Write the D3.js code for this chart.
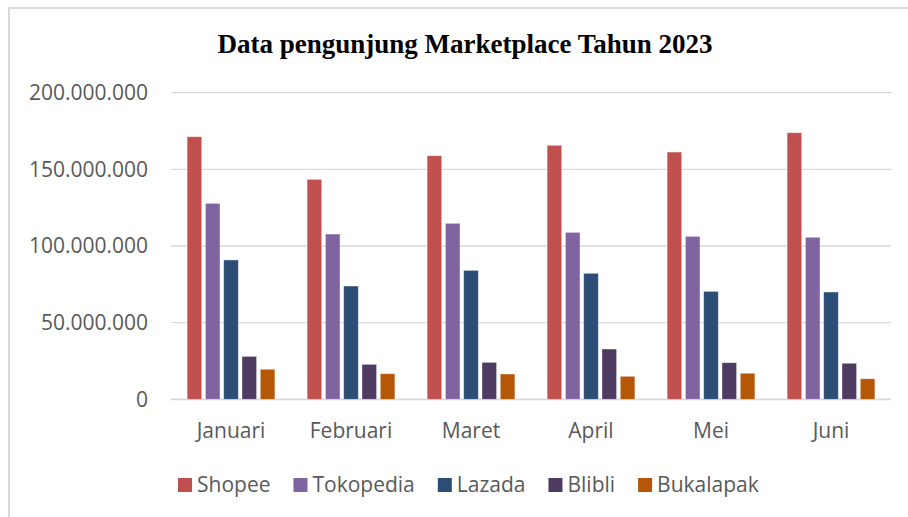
<!DOCTYPE html>
<meta charset="utf-8">
<style>
body { margin: 0; background: #fff; }
svg { display: block; }
.tick text, .cat, .legend text { font-family: "Open Sans", sans-serif; font-size: 21px; fill: #595959; }
.title { font-family: "Liberation Serif", "Times New Roman", serif; font-weight: bold; font-size: 27px; fill: #000; }
</style>
<svg width="908" height="517"></svg>
<script src="https://d3js.org/d3.v7.min.js"></script>
<script>

var months = ["Januari", "Februari", "Maret", "April", "Mei", "Juni"];
var series = ["Shopee", "Tokopedia", "Lazada", "Blibli", "Bukalapak"];
var colors = ["#C0504D", "#8064A2", "#2C4D75", "#4D3B62", "#B65708"];
// values per month, in series order
var shopee    = [171300000, 143500000, 158900000, 165700000, 161300000, 173900000];
var tokopedia = [127800000, 107800000, 114800000, 108900000, 106300000, 105700000];
var lazada    = [ 90900000,  73900000,  84100000,  82200000,  70400000,  70000000];
var blibli    = [ 28000000,  22800000,  24100000,  32800000,  23900000,  23500000];
var bukalapak = [ 19600000,  16700000,  16500000,  15000000,  17000000,  13400000];
var yTicks = [0, 50000000, 100000000, 150000000, 200000000];

var allValues = [shopee, tokopedia, lazada, blibli, bukalapak];

var svg = d3.select("svg");
var plotLeft = 171, plotRight = 891, plotTop = 92.7, plotBottom = 399.3;

// chart border
svg.append("rect")
    .attr("x", 9).attr("y", 8)
    .attr("width", 908).attr("height", 520)
    .attr("fill", "none")
    .attr("stroke", "#d9d9d9")
    .attr("stroke-width", 2);

svg.append("text")
    .attr("class", "title")
    .attr("x", 465).attr("y", 53)
    .attr("text-anchor", "middle")
    .text("Data pengunjung Marketplace Tahun 2023");

var x0 = d3.scaleBand().domain(months).range([plotLeft, plotRight]);
var x1 = d3.scaleBand().domain(series).range([0, x0.bandwidth()])
    .paddingInner(0.2).paddingOuter(0.88);
var y = d3.scaleLinear().domain([0, 200000000]).range([plotBottom, plotTop]);

var id = d3.formatLocale({decimal: ",", thousands: ".", grouping: [3], currency: ["Rp", ""]});
var fmt = id.format(",d");

// gridlines
svg.append("g")
  .selectAll("line")
  .data(yTicks)
  .join("line")
    .attr("x1", plotLeft).attr("x2", plotRight)
    .attr("y1", function(d) { return y(d); })
    .attr("y2", function(d) { return y(d); })
    .attr("stroke", "#d9d9d9")
    .attr("stroke-width", function(d) { return d === 0 ? 1.8 : 1.3; });

var yAxis = svg.append("g")
    .attr("transform", "translate(" + plotLeft + ",0)")
    .call(d3.axisLeft(y).tickValues(yTicks).tickFormat(fmt).tickSize(0).tickPadding(23));
yAxis.select(".domain").remove();
yAxis.attr("font-family", null).attr("font-size", null);

var groups = svg.append("g")
  .selectAll("g")
  .data(months)
  .join("g")
    .attr("transform", function(m) { return "translate(" + x0(m) + ",0)"; });

groups.selectAll("rect")
  .data(function(m, i) {
    return series.map(function(s, j) { return {s: s, j: j, v: allValues[j][i]}; });
  })
  .join("rect")
    .attr("x", function(d) { return x1(d.s); })
    .attr("width", x1.bandwidth())
    .attr("y", function(d) { return y(d.v); })
    .attr("height", function(d) { return plotBottom - y(d.v); })
    .attr("fill", function(d) { return colors[d.j]; })
    .attr("stroke", "#fff")
    .attr("stroke-opacity", 0.5)
    .attr("stroke-width", 0.8);

svg.append("g")
  .selectAll("text")
  .data(months)
  .join("text")
    .attr("class", "cat")
    .attr("x", function(m) { return x0(m) + x0.bandwidth() / 2; })
    .attr("y", 438)
    .attr("text-anchor", "middle")
    .text(function(m) { return m; });

// legend
var legend = svg.append("g").attr("class", "legend");
var lx = 178;
series.forEach(function(s, j) {
  legend.append("rect")
      .attr("x", lx).attr("y", 478)
      .attr("width", 14).attr("height", 14)
      .attr("fill", colors[j]);
  var t = legend.append("text")
      .attr("x", lx + 19).attr("y", 491.5)
      .text(s);
  lx += 19 + t.node().getComputedTextLength() + 23;
});

</script>
